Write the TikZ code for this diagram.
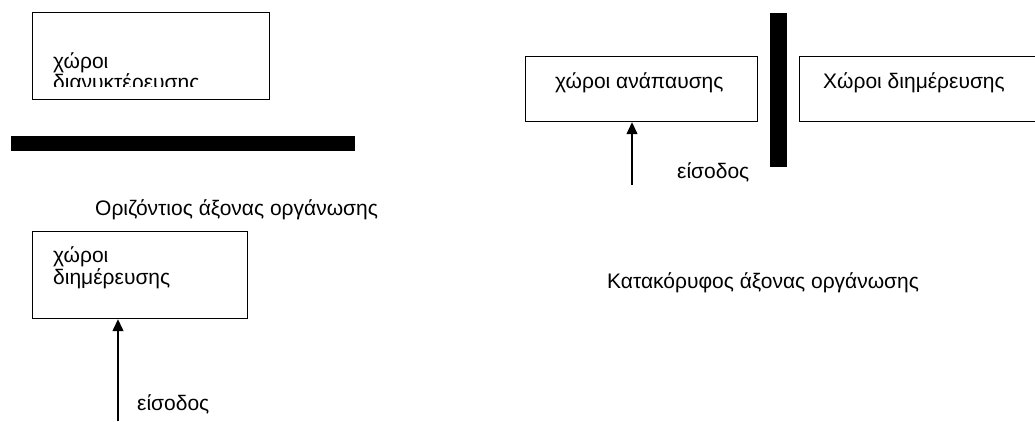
\documentclass[tikz,border=0pt]{standalone}
\usepackage{fontspec}
\setmainfont{Liberation Sans}
\usetikzlibrary{arrows.meta}
\begin{document}
\begin{tikzpicture}[x=1pt,y=-1pt,
  every node/.style={font=\fontsize{21}{24}\selectfont, inner sep=0pt, anchor=base west},
  room/.style={draw, line width=1.2pt, anchor=north west},
  wall/.style={fill=black},
  entry/.style={line width=1.3pt, -{Triangle[length=12pt,width=11pt]}}]
\useasboundingbox (0,0) rectangle (1035,421);
% left: horizontal axis
\node[room, minimum width=237pt, minimum height=87pt] (r1) at (32,12) {};
\begin{scope}
  \clip (32,12) rectangle (269,86.5);
  \node (t1a) at (53,68) {χώροι};
  \node (t1b) at (53,89) {διανυκτέρευσης};
\end{scope}
\fill[wall] (11,136) rectangle (355,151);
\node (h) at (95,215) {Οριζόντιος άξονας οργάνωσης};
\node[room, minimum width=215pt, minimum height=87pt] (r2) at (32,231) {};
\node (t2a) at (53,262) {χώροι};
\node (t2b) at (53,284) {διημέρευσης};
\coordinate (e2) at (118,421);
\draw[entry] (e2) -- (e2 |- r2.south);
\node (s2) at (137,410) {είσοδος};
% right: vertical axis
\fill[wall] (770,13) rectangle (787,167);
\node[room, minimum width=232pt, minimum height=65pt] (r3) at (525,56) {};
\node (t3) at (555,88) {χώροι ανάπαυσης};
\node[room, minimum width=260pt, minimum height=65pt] (r4) at (799,56) {};
\node (t4) at (823,88) {Χώροι διημέρευσης};
\coordinate (e3) at (632,185);
\draw[entry] (e3) -- (e3 |- r3.south);
\node (s3) at (677,178) {είσοδος};
\node (v) at (607,288) {Κατακόρυφος άξονας οργάνωσης};
\end{tikzpicture}
\end{document}
